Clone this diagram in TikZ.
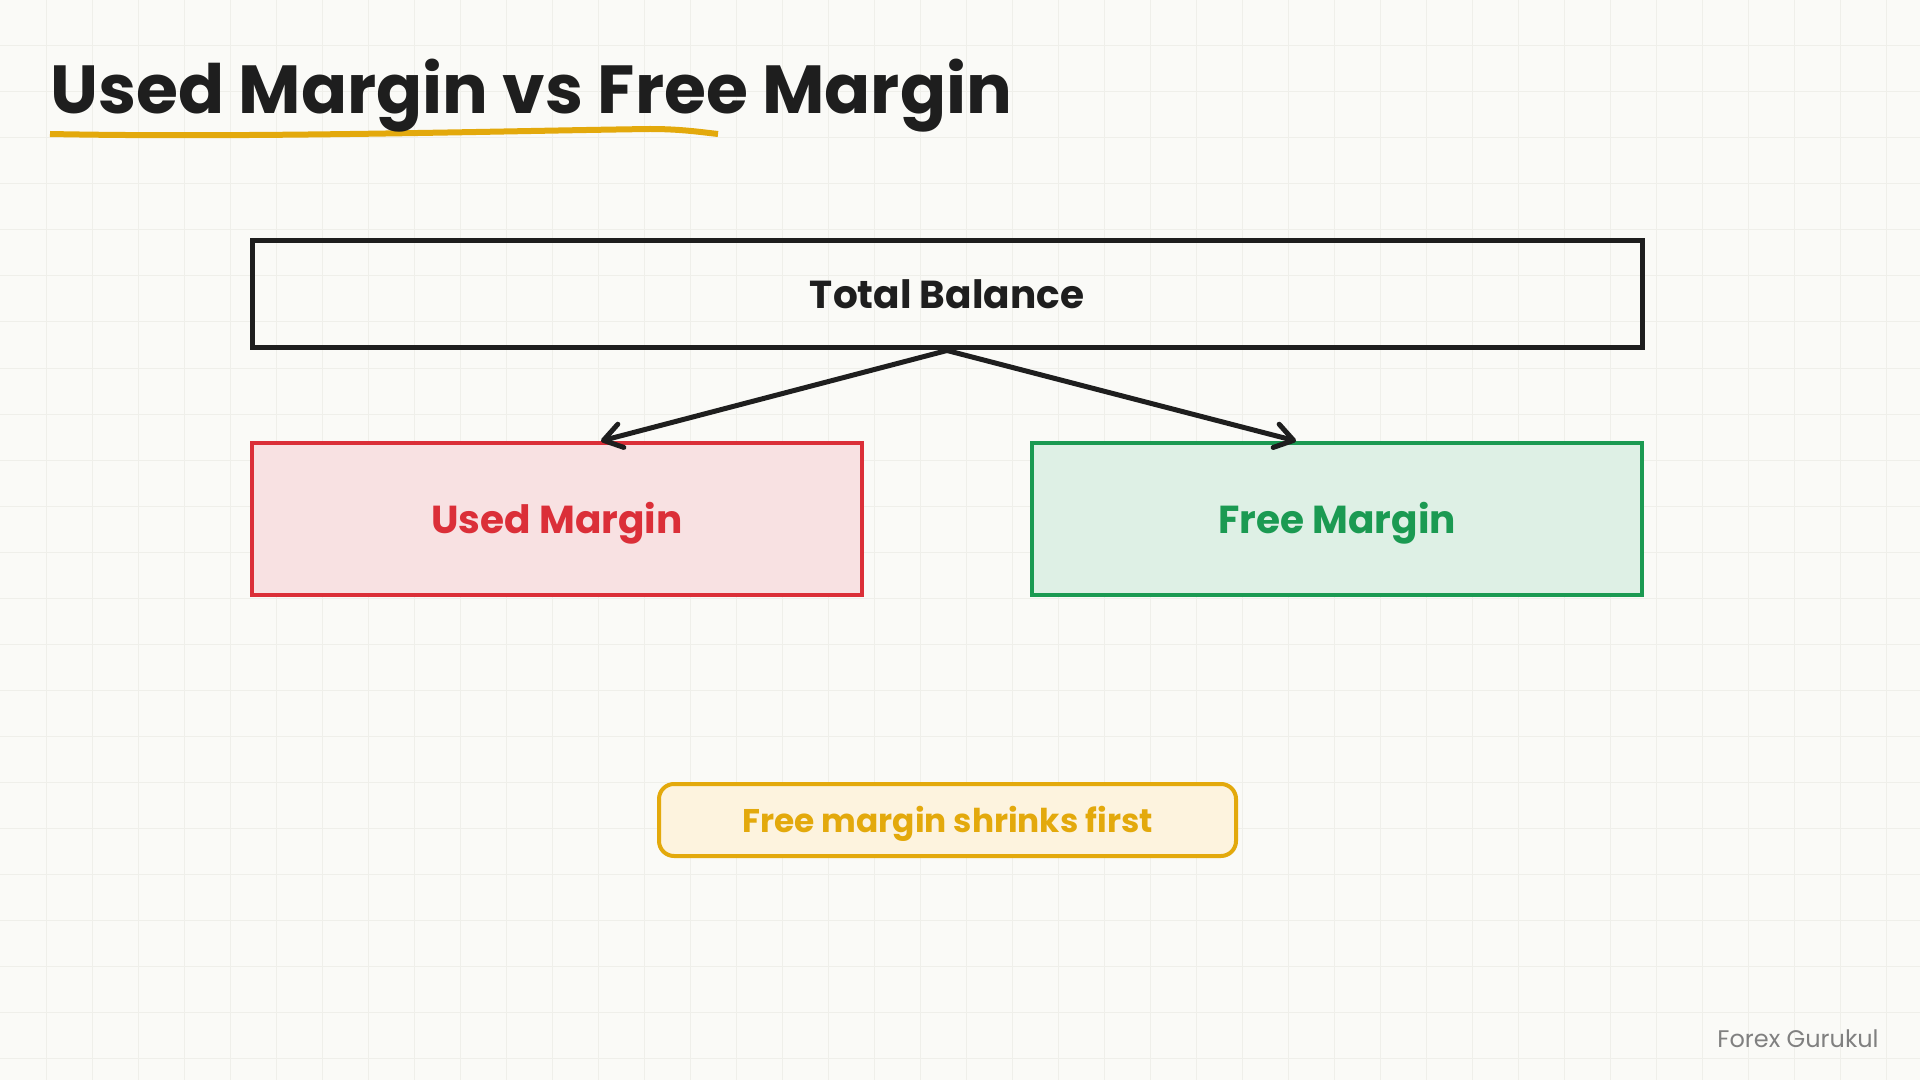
\documentclass[tikz,border=0pt]{standalone}
\usepackage{fontspec}
\setmainfont{Poppins}
\usetikzlibrary{arrows.meta,calc}

\definecolor{bgc}{HTML}{FAFAF7}
\definecolor{gridc}{HTML}{EFEFEA}
\definecolor{inkc}{HTML}{1E1E1E}
\definecolor{usedc}{HTML}{DB2F38}
\definecolor{usedfill}{HTML}{F8E1E2}
\definecolor{freec}{HTML}{1B9A52}
\definecolor{freefill}{HTML}{DEF0E5}
\definecolor{amberc}{HTML}{E3A90C}
\definecolor{amberfill}{HTML}{FDF3DE}
\definecolor{footc}{HTML}{808080}

\tikzset{
  gridline/.style={draw=gridc,line width=0.5pt},
  box/.style={draw,rectangle,line width=2pt,inner sep=0pt,
    minimum width=305pt,minimum height=76pt,
    font=\fontsize{19.5pt}{22pt}\selectfont\bfseries},
  link/.style={-{Straight Barb[length=9pt,width=12pt,round]},
    draw=inkc,line width=2.5pt,line cap=round},
}

\begin{document}
\begin{tikzpicture}[x=0.5pt,y=-0.5pt]
          \fill[bgc] (0,0) rectangle (1920,1080);
          \useasboundingbox (0,0) rectangle (1920,1080);
          % faint paper grid
          \foreach \gx in {46,92,...,1886} \draw[gridline] (\gx,0) -- (\gx,1080);
          \foreach \gy in {46,92,...,1058} \draw[gridline] (0,\gy) -- (1920,\gy);
          % title
          \draw[amberc,line width=3pt] (50,134) .. controls (250,138) and (500,131) .. (650,129)
            .. controls (680,129) and (700,132) .. (718,134);
          \node[anchor=base west,inner sep=0pt,text=inkc,
            font=\fontsize{34pt}{38pt}\selectfont\bfseries] (Title) at (50,114) {Used Margin vs Free Margin};
          % boxes
          \node[box,draw=inkc,text=inkc,line width=2.5pt,minimum width=695pt,minimum height=53.5pt] (TB) at (947,294.5) {Total Balance};
          \node[box,draw=usedc,fill=usedfill,text=usedc,text depth=1.5pt] (UM) at (557,519) {Used Margin};
          \node[box,draw=freec,fill=freefill,text=freec,text depth=1.5pt] (FM) at (1337,519) {Free Margin};
          \coordinate (UMin) at ($(UM.north)+(44,0)$);
          \coordinate (FMin) at ($(FM.north)+(-41,0)$);
          \draw[link] (TB.south) -- (UMin);
          \draw[link] (TB.south) -- (FMin);
          % note
          \node[draw=amberc,fill=amberfill,text=amberc,line width=2pt,rounded corners=7.5pt,
            inner sep=0pt,minimum width=288.5pt,minimum height=36pt,text depth=1pt,
            font=\fontsize{16.4pt}{19pt}\selectfont\bfseries] (Note) at (947.5,820) {Free margin shrinks first};
          \node[anchor=base east,inner sep=0pt,text=footc,
            font=\fontsize{12pt}{14pt}\selectfont] (Brand) at (1879,1047) {Forex Gurukul};
        \end{tikzpicture}
\end{document}
